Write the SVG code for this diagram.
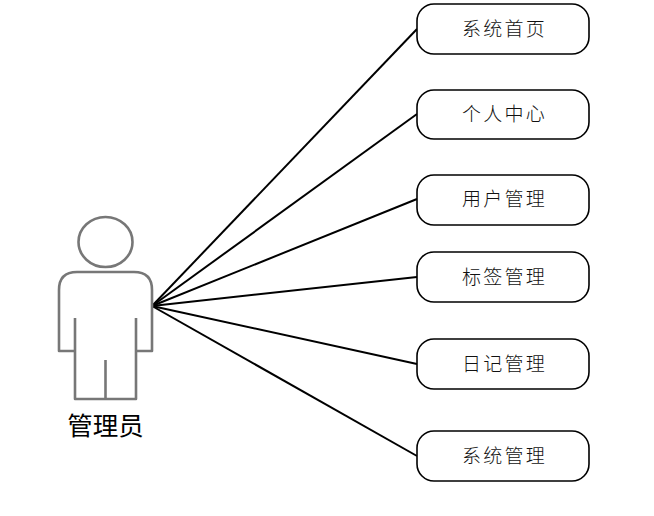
<svg xmlns="http://www.w3.org/2000/svg" width="654" height="516" viewBox="0 0 654 516">
<style>
.n{fill:#fff;stroke:#000;stroke-width:1.6}
.t{font-family:"Noto Sans CJK SC","Noto Sans CJK JP",sans-serif;font-size:19px;font-weight:300;fill:#111;text-anchor:middle;letter-spacing:2.2px}
.c line{stroke:#000;stroke-width:2}
.a{fill:none;stroke:#777;stroke-width:2.6;stroke-linejoin:round}
</style>
<rect width="654" height="516" fill="#fff"/>
<g id="connectors" class="c">
<line x1="152" y1="306" x2="417" y2="29"/>
<line x1="152" y1="306" x2="417" y2="114"/>
<line x1="152" y1="306" x2="417" y2="199"/>
<line x1="152" y1="306" x2="417" y2="277"/>
<line x1="152" y1="306" x2="417" y2="364"/>
<line x1="152" y1="306" x2="417" y2="456"/>
</g>
<g id="actor">
<ellipse class="a" cx="105.500" cy="242" rx="27" ry="25"/>
<path class="a" d="M75 351H59V290Q59 272 77 272H134Q152 272 152 290V351H136M75 318V399H136V318M105.500 360V399"/>
<text x="105.500" y="435" style="font-family:'Noto Sans CJK SC',sans-serif;font-size:25.500px;fill:#000;text-anchor:middle">管理员</text>
</g>
<g id="n1"><rect class="n" x="417" y="4" width="172" height="50" rx="17"/><text class="t" x="504.500" y="36">系统首页</text></g>
<g id="n2"><rect class="n" x="417" y="90" width="172" height="49" rx="17"/><text class="t" x="504.500" y="121">个人中心</text></g>
<g id="n3"><rect class="n" x="417" y="175" width="172" height="50" rx="17"/><text class="t" x="504.500" y="206">用户管理</text></g>
<g id="n4"><rect class="n" x="417" y="252" width="172" height="50" rx="17"/><text class="t" x="504.500" y="284">标签管理</text></g>
<g id="n5"><rect class="n" x="417" y="339" width="172" height="50" rx="17"/><text class="t" x="504.500" y="371">日记管理</text></g>
<g id="n6"><rect class="n" x="417" y="431" width="172" height="50" rx="17"/><text class="t" x="504.500" y="463">系统管理</text></g>
</svg>
